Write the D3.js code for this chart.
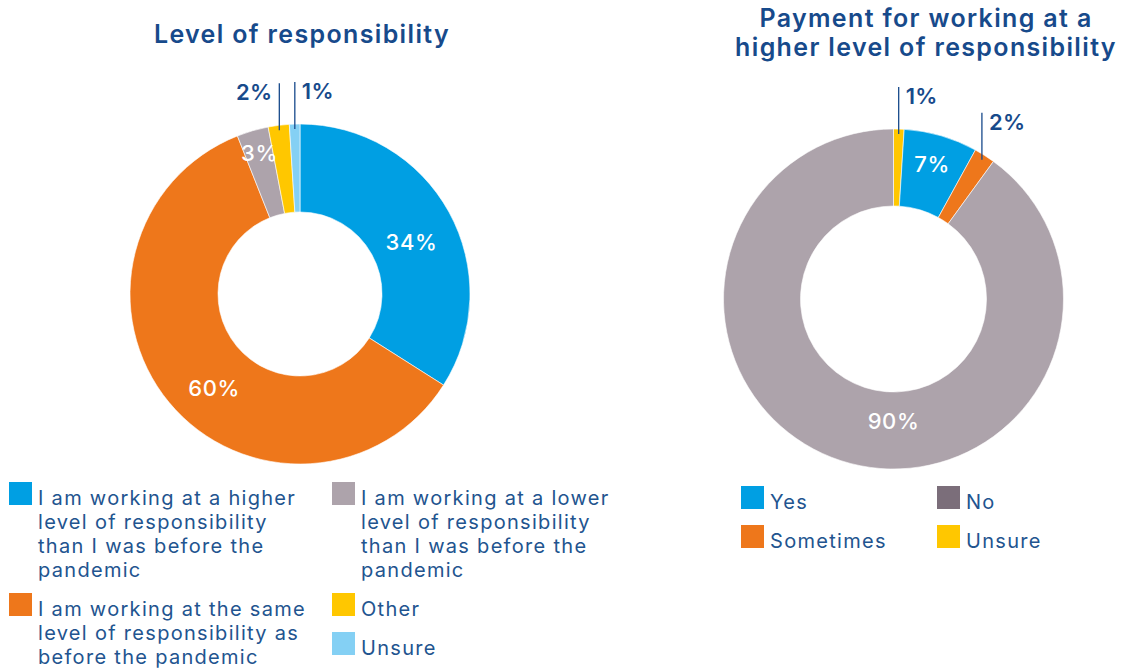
<!DOCTYPE html>
<html>
<head>
<meta charset="utf-8">
<script src="https://cdn.jsdelivr.net/npm/d3@7"></script>
<style>
  html, body { margin: 0; padding: 0; background: #fff; }
  svg { display: block; font-family: Inter, "Noto Sans", sans-serif; }
</style>
</head>
<body>
<svg id="chart" width="1122" height="668"></svg>
<script>
// ---------- DATA ----------
const leftTitle = ["Level of responsibility"];
const leftCategories = ["Higher", "Same", "Lower", "Other", "Unsure"];
const leftValues = [34, 60, 3, 2, 1];
const leftColors = ["#009fe3", "#ee771b", "#ada3ab", "#ffc700", "#84d0f4"];
const leftLegendLines = [
  ["I am working at a higher", "level of responsibility", "than I was before the", "pandemic"],
  ["I am working at the same", "level of responsibility as", "before the pandemic"],
  ["I am working at a lower", "level of responsibility", "than I was before the", "pandemic"],
  ["Other"],
  ["Unsure"]
];
const leftLegendColumn = [0, 0, 1, 1, 1];

const rightTitle = ["Payment for working at a", "higher level of responsibility"];
const rightCategories = ["Unsure", "Yes", "Sometimes", "No"];
const rightValues = [1, 7, 2, 90];
const rightColors = ["#ffc700", "#009fe3", "#ee771b", "#ada3ab"];
const rightLegendNames = ["Yes", "Sometimes", "No", "Unsure"];
const rightLegendColors = ["#009fe3", "#ee771b", "#7b6e7a", "#ffc700"];
const rightLegendColumn = [0, 0, 1, 1];

// ---------- LAYOUT / STYLE ----------
const navy = "#174a8b";
const legendText = "#22548f";
const svg = d3.select("#chart");

function drawDonut(opt) {
  const g = svg.append("g").attr("transform", `translate(${opt.cx},${opt.cy})`);
  const pie = d3.pie().sort(null).value(d => d.value);
  const arcs = pie(opt.values.map((v, i) => ({ value: v, cat: opt.categories[i], color: opt.colors[i] })));
  const arc = d3.arc().innerRadius(opt.inner).outerRadius(opt.outer);

  g.selectAll("path.slice").data(arcs).join("path")
    .attr("class", "slice")
    .attr("d", arc)
    .attr("fill", d => d.data.color)
    .attr("stroke", "#fff")
    .attr("stroke-width", 0.6);

  arcs.forEach((a, i) => {
    const mid = (a.startAngle + a.endAngle) / 2;
    const place = opt.labelPlace[i];
    if (place.type === "inside") {
      const ang = place.angle != null ? place.angle * Math.PI / 180 : mid;
      const r = place.r;
      g.append("text")
        .attr("x", r * Math.sin(ang))
        .attr("y", -r * Math.cos(ang))
        .attr("dy", "0.36em")
        .attr("text-anchor", "middle")
        .attr("fill", "#fff")
        .attr("font-size", 22)
        .attr("font-weight", 500)
        .attr("letter-spacing", 0.6)
        .text(a.data.value + "%");
    } else {
      const r = opt.outer - 5;
      const px = r * Math.sin(mid), py = -r * Math.cos(mid);
      const top = py - 47;
      g.append("line")
        .attr("x1", px).attr("x2", px)
        .attr("y1", top).attr("y2", py)
        .attr("stroke", navy).attr("stroke-width", 1.3);
      const side = place.side === "left" ? -1 : 1;
      g.append("text")
        .attr("x", px + side * 7)
        .attr("y", top + 17)
        .attr("text-anchor", side < 0 ? "end" : "start")
        .attr("fill", navy)
        .attr("font-size", 22)
        .attr("font-weight", 600)
        .attr("letter-spacing", 0.3)
        .text(a.data.value + "%");
    }
  });
}

function drawTitle(lines, x, y0) {
  svg.append("text")
    .attr("text-anchor", "middle")
    .attr("fill", navy)
    .attr("font-size", 25)
    .attr("font-weight", 600)
    .attr("letter-spacing", 1.35)
    .selectAll("tspan").data(lines).join("tspan")
    .attr("x", x)
    .attr("y", (d, i) => y0 + i * 29)
    .text(d => d);
}

function drawLegend(items, colX, y0) {
  const colY = colX.map(() => y0);
  items.forEach(it => {
    const x = colX[it.col];
    const y = colY[it.col];
    svg.append("rect")
      .attr("x", x).attr("y", y - 23)
      .attr("width", 23).attr("height", 23)
      .attr("fill", it.color);
    svg.append("text")
      .attr("fill", legendText)
      .attr("font-size", 20)
      .attr("letter-spacing", 1.3)
      .selectAll("tspan").data(it.lines).join("tspan")
      .attr("x", x + 29)
      .attr("y", (d, i) => y + i * 24)
      .text(d => d);
    colY[it.col] = y + it.lines.length * 24 + 15;
  });
}

// Left chart
drawTitle(leftTitle, 302, 43);
drawDonut({
  cx: 300, cy: 294, outer: 170, inner: 82,
  values: leftValues, categories: leftCategories, colors: leftColors,
  labelPlace: [
    { type: "inside", angle: 65, r: 123 },
    { type: "inside", angle: 222.5, r: 127 },
    { type: "inside", angle: 344, r: 147 },
    { type: "outside", side: "left" },
    { type: "outside", side: "right" }
  ]
});
drawLegend(
  [0, 1, 2, 3, 4].map(i => ({ lines: leftLegendLines[i], color: leftColors[i], col: leftLegendColumn[i] })),
  [9, 332], 505
);

// Right chart
drawTitle(rightTitle, 926, 27);
drawDonut({
  cx: 893.5, cy: 299, outer: 170, inner: 93,
  values: rightValues, categories: rightCategories, colors: rightColors,
  labelPlace: [
    { type: "outside", side: "right" },
    { type: "inside", angle: 16, r: 140 },
    { type: "outside", side: "right" },
    { type: "inside", angle: 180, r: 122 }
  ]
});
drawLegend(
  rightLegendNames.map((n, i) => ({ lines: [n], color: rightLegendColors[i], col: rightLegendColumn[i] })),
  [741, 937], 509
);
</script>
</body>
</html>
